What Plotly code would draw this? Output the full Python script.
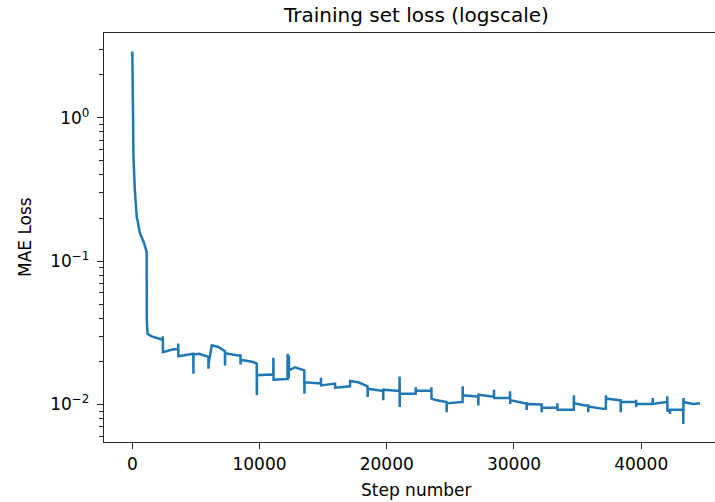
import plotly.graph_objects as go

# Training loss
steps = [0, 15, 25, 40, 50, 60, 90, 200, 350, 600, 920, 1130, 1140, 1150, 1170, 1200,
         1525, 2044, 2380, 2395, 2410, 3223, 3600, 3610, 3625, 4795, 4805, 4815, 5266,
         5848, 5980, 5990, 6000, 6250, 6760, 7280, 7290, 7300, 8332, 8500, 8510, 8520,
         9511, 9778, 9790, 9800, 10957, 11080, 11090, 11100, 12136, 12200, 12210, 12220,
         12300, 12310, 12320, 12788, 13182, 13519, 13530, 13540, 14620, 14820, 14830,
         14840, 15932, 15945, 17112, 17125, 17764, 18424, 18490, 18500, 18510, 19603,
         19715, 19725, 19735, 20782, 21000, 21010, 21020, 21030, 22087, 22270, 22280,
         22290, 23400, 23500, 23510, 23520, 23926, 24578, 24700, 24710, 24720, 25891,
         25960, 25970, 25980, 27070, 27190, 27200, 27210, 28249, 28420, 28430, 28440,
         29554, 29680, 29690, 29700, 29710, 30866, 30990, 31000, 31010, 32046, 32170,
         32180, 32190, 33225, 33400, 33410, 33420, 34616, 34700, 34710, 34720, 35582,
         35830, 35840, 35850, 37021, 37220, 37230, 37240, 38334, 38380, 38390, 38400,
         39512, 39590, 39600, 39610, 39620, 40825, 40895, 40905, 40915, 41950, 42040,
         42050, 42060, 42250, 42260, 42270, 43184, 43300, 43310, 43320, 43340, 44095,
         44622]
loss = [2.9, 1.05, 2.8, 1.1, 2.6, 1.02, 0.536, 0.314, 0.204, 0.157, 0.134, 0.116, 0.039,
        0.036, 0.039, 0.0312, 0.0299, 0.0288, 0.0283, 0.0299, 0.0232, 0.0243, 0.0243,
        0.0266, 0.0217, 0.0226, 0.0164, 0.0223, 0.0226, 0.0217, 0.0215, 0.0178, 0.0193,
        0.0259, 0.0252, 0.0236, 0.0187, 0.0228, 0.0220, 0.0220, 0.0190, 0.0205, 0.0198,
        0.0193, 0.0116, 0.0160, 0.0162, 0.0160, 0.0212, 0.0149, 0.0151, 0.0151, 0.0226,
        0.0155, 0.0155, 0.0220, 0.0173, 0.0182, 0.0178, 0.0173, 0.0119, 0.0143, 0.0141,
        0.0141, 0.0154, 0.0136, 0.0140, 0.0131, 0.0134, 0.0146, 0.0143, 0.0134, 0.0134,
        0.0113, 0.0129, 0.0125, 0.0125, 0.0107, 0.0127, 0.0125, 0.0125, 0.0157, 0.0096,
        0.0119, 0.0119, 0.0119, 0.0132, 0.0125, 0.0125, 0.0125, 0.0132, 0.0110, 0.0107,
        0.0104, 0.0104, 0.00883, 0.0102, 0.0104, 0.0104, 0.0134, 0.0116, 0.0114, 0.0114,
        0.00985, 0.0117, 0.0114, 0.0114, 0.0127, 0.0111, 0.0111, 0.0111, 0.0124, 0.0101,
        0.0107, 0.0102, 0.0102, 0.00918, 0.0101, 0.0100, 0.0100, 0.00883, 0.00948,
        0.00948, 0.00948, 0.0102, 0.00918, 0.00918, 0.00918, 0.0116, 0.0102, 0.00985,
        0.00985, 0.00883, 0.00969, 0.00933, 0.00933, 0.0116, 0.0110, 0.0107, 0.0107,
        0.00883, 0.0104, 0.0104, 0.0104, 0.0108, 0.0096, 0.0101, 0.0101, 0.0101, 0.0111,
        0.0101, 0.0104, 0.0104, 0.0114, 0.00908, 0.00908, 0.00861, 0.00918, 0.00918,
        0.00918, 0.00733, 0.0111, 0.0104, 0.0101, 0.0102]

x_ticks = [0, 10000, 20000, 30000, 40000]
x_tick_labels = ["0", "10000", "20000", "30000", "40000"]
y_ticks = [1, 0.1, 0.01]
y_tick_labels = ["10<sup>0</sup>", "10<sup>\u22121</sup>", "10<sup>\u22122</sup>"]
y_minor = [m * 10.0 ** e for e in (-3, -2, -1, 0) for m in range(2, 10)]

title = "Training set loss (logscale)"
x_title = "Step number"
y_title = "MAE Loss"

FONT = "DejaVu Sans"
fig = go.Figure()
fig.add_trace(go.Scatter(x=steps, y=loss, mode="lines",
                         line=dict(color="#1f77b4", width=2.5), showlegend=False))

fig.update_layout(
    width=715, height=502,
    margin=dict(l=104, r=0, t=33, b=60),
    paper_bgcolor="white", plot_bgcolor="white",
    font=dict(family=FONT, size=17, color="#000000"),
)
fig.update_xaxes(
    range=[-2224, 45800], showgrid=False, zeroline=False,
    showline=True, linecolor="#262626", linewidth=1.4, mirror=True,
    ticks="outside", ticklen=6, tickwidth=1.4, tickcolor="#262626",
    tickvals=x_ticks, ticktext=x_tick_labels,
    tickfont=dict(family=FONT, size=17, color="#000"),
)
fig.update_yaxes(
    type="log", range=[-2.2613, 0.5917], showgrid=False, zeroline=False,
    showline=True, linecolor="#262626", linewidth=1.4, mirror=False,
    ticks="outside", ticklen=6, tickwidth=1.4, tickcolor="#262626",
    tickvals=y_ticks, ticktext=y_tick_labels,
    tickfont=dict(family=FONT, size=17, color="#000"),
    ticklabelstandoff=4,
    minor=dict(tickmode="array", tickvals=y_minor, ticks="outside", ticklen=3.5,
               tickwidth=1.0, tickcolor="#262626", showgrid=False),
)
fig.add_annotation(text=title, xref="paper", yref="paper", x=0.5106, y=1.0448,
                   xanchor="center", yanchor="middle", showarrow=False,
                   font=dict(family=FONT, size=20, color="#000"))
fig.add_annotation(text=x_title, xref="paper", yref="paper", x=0.5106, y=-0.1183,
                   xanchor="center", yanchor="middle", showarrow=False,
                   font=dict(family=FONT, size=17, color="#000"))
fig.add_annotation(text=y_title, xref="paper", yref="paper", x=-0.1301, y=0.5,
                   xanchor="center", yanchor="middle", showarrow=False, textangle=-90,
                   font=dict(family=FONT, size=17, color="#000"))

fig.write_html("out.html")
